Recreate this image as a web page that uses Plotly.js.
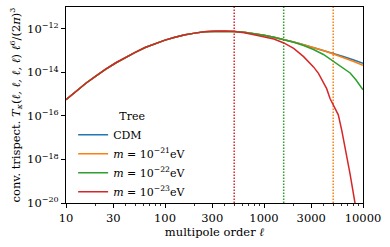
<!DOCTYPE html>
<html>
<head>
<meta charset="utf-8">
<script src="https://cdn.plot.ly/plotly-3.0.1.min.js"></script>
<style>html,body{margin:0;padding:0;background:#fff;}#chart{width:390px;height:247px;}</style>
</head>
<body>
<div id="chart"></div>
<script>
// multipole order ell and convergence trispectrum T_kappa ell^6/(2pi)^3
const ellCDM = [10, 13, 16, 20, 25, 32, 40, 50, 63, 80, 100, 126, 160, 200, 250, 320, 400, 500, 631, 794, 1000, 1259, 1585, 1995, 2512, 3162, 3981, 5012, 6310, 7943, 10000];
const tCDM   = [5.50e-16, 1.51e-15, 3.24e-15, 6.76e-15, 1.38e-14, 2.75e-14, 4.90e-14, 8.32e-14, 1.38e-13, 2.14e-13, 3.02e-13, 4.07e-13, 5.37e-13, 6.31e-13, 7.24e-13, 7.76e-13, 7.94e-13, 7.59e-13, 6.92e-13, 6.03e-13, 5.01e-13, 4.07e-13, 3.24e-13, 2.45e-13, 1.86e-13, 1.38e-13, 1.02e-13, 7.41e-14, 5.37e-14, 3.80e-14, 2.63e-14];

const ellM21 = [10, 13, 16, 20, 25, 32, 40, 50, 63, 80, 100, 126, 160, 200, 250, 320, 400, 500, 631, 794, 1000, 1259, 1585, 1995, 2512, 3162, 3981, 5012, 6310, 7943, 10000];
const tM21   = [5.50e-16, 1.51e-15, 3.24e-15, 6.76e-15, 1.38e-14, 2.75e-14, 4.90e-14, 8.32e-14, 1.38e-13, 2.14e-13, 3.02e-13, 4.07e-13, 5.37e-13, 6.31e-13, 7.24e-13, 7.76e-13, 7.94e-13, 7.59e-13, 6.92e-13, 6.03e-13, 5.01e-13, 4.07e-13, 3.24e-13, 2.45e-13, 1.86e-13, 1.38e-13, 1.00e-13, 6.92e-14, 4.79e-14, 3.24e-14, 2.09e-14];

const ellM22 = [10, 13, 16, 20, 25, 32, 40, 50, 63, 80, 100, 126, 160, 200, 250, 320, 400, 500, 631, 794, 1000, 1259, 1585, 1995, 2512, 3162, 3981, 5012, 6310, 7413, 8511, 10000];
const tM22   = [5.50e-16, 1.51e-15, 3.24e-15, 6.76e-15, 1.38e-14, 2.75e-14, 4.90e-14, 8.32e-14, 1.38e-13, 2.14e-13, 3.02e-13, 4.07e-13, 5.37e-13, 6.31e-13, 7.24e-13, 7.76e-13, 7.94e-13, 7.59e-13, 6.92e-13, 6.03e-13, 5.01e-13, 4.07e-13, 3.24e-13, 2.40e-13, 1.70e-13, 1.12e-13, 6.61e-14, 3.31e-14, 1.66e-14, 9.33e-15, 4.47e-15, 1.58e-15];

const ellM23 = [10, 13, 16, 20, 25, 32, 40, 50, 63, 80, 100, 126, 160, 200, 250, 320, 400, 500, 631, 794, 1000, 1259, 1585, 1832, 1995, 2512, 3162, 3548, 3981, 4295, 4645, 5012, 5420, 5630, 6096, 6577, 7390, 8300, 8710];
const tM23   = [5.50e-16, 1.51e-15, 3.24e-15, 6.76e-15, 1.38e-14, 2.75e-14, 4.90e-14, 8.32e-14, 1.38e-13, 2.14e-13, 3.02e-13, 4.07e-13, 5.37e-13, 6.31e-13, 7.24e-13, 7.76e-13, 7.94e-13, 7.41e-13, 6.61e-13, 5.37e-13, 4.37e-13, 3.39e-13, 2.24e-13, 1.58e-13, 1.26e-13, 5.25e-14, 1.78e-14, 8.91e-15, 3.16e-15, 1.78e-15, 6.31e-16, 3.16e-16, 1.58e-16, 1.12e-16, 2.24e-17, 3.80e-18, 2.24e-19, 1.00e-20, 3.16e-21];

// cut-off multipoles (dotted vertical lines)
const cutM21 = 5000, cutM22 = 1581, cutM23 = 500;
const yLimits = [1e-20, 1e-11];

const xTickVals = [10, 30, 100, 300, 1000, 3000, 10000];
const xTickText = ['10', '30', '100', '300', '1000', '3000', '10000'];
const xMinorVals = [20, 40, 50, 60, 70, 80, 90, 200, 400, 500, 600, 700, 800, 900, 2000, 4000, 5000, 6000, 7000, 8000, 9000];
const yTickVals = [1e-20, 1e-18, 1e-16, 1e-14, 1e-12];
const yTickText = ['10<sup>−20</sup>', '10<sup>−18</sup>', '10<sup>−16</sup>', '10<sup>−14</sup>', '10<sup>−12</sup>'];

const names = ['CDM', '<i>m</i> = 10<sup>−21</sup>eV', '<i>m</i> = 10<sup>−22</sup>eV', '<i>m</i> = 10<sup>−23</sup>eV'];
const colors = ['#1f77b4', '#ff7f0e', '#2ca02c', '#d62728'];

function vline(x, color) {
  return {x: [x, x], y: yLimits, mode: 'lines', showlegend: false, hoverinfo: 'skip',
          line: {color: color, width: 1.5, dash: '1.5px,1.5px'}};
}

const traces = [
  vline(cutM23, colors[3]), vline(cutM22, colors[2]), vline(cutM21, colors[1]),
  {x: ellCDM, y: tCDM, name: names[0], mode: 'lines', line: {color: colors[0], width: 1.5}},
  {x: ellM21, y: tM21, name: names[1], mode: 'lines', line: {color: colors[1], width: 1.5}},
  {x: ellM22, y: tM22, name: names[2], mode: 'lines', line: {color: colors[2], width: 1.5}},
  {x: ellM23, y: tM23, name: names[3], mode: 'lines', line: {color: colors[3], width: 1.5}}
];

const font = {family: 'DejaVu Serif', size: 11.5, color: '#000'};
const legFont = {family: 'DejaVu Serif', size: 11, color: '#000'};

const layout = {
  width: 390, height: 247,
  margin: {l: 66, r: 27, t: 7, b: 44},
  paper_bgcolor: '#fff', plot_bgcolor: '#fff',
  font: font,
  showlegend: true,
  legend: {
    x: 0.024, y: -0.02, xanchor: 'left', yanchor: 'bottom',
    bgcolor: 'rgba(0,0,0,0)', borderwidth: 0,
    font: legFont,
    title: {text: 'Tree', side: 'top center', font: legFont},
    tracegroupgap: 0, itemwidth: 30
  },
  xaxis: {
    type: 'log', range: [1, 4],
    tickmode: 'array', tickvals: xTickVals, ticktext: xTickText,
    ticks: 'outside', ticklen: 4, tickwidth: 1, tickcolor: '#000',
    minor: {tickmode: 'array', tickvals: xMinorVals, ticks: 'outside', ticklen: 2, tickwidth: 0.8, tickcolor: '#000', showgrid: false},
    showline: true, linecolor: '#000', linewidth: 1, mirror: true,
    showgrid: false, zeroline: false,
    title: {text: 'multipole order <i>ℓ</i>', font: font, standoff: 4}
  },
  yaxis: {
    type: 'log', range: [-20, -11],
    tickmode: 'array', tickvals: yTickVals, ticktext: yTickText,
    ticks: 'outside', ticklen: 4, tickwidth: 1, tickcolor: '#000',
    showline: true, linecolor: '#000', linewidth: 1, mirror: true,
    showgrid: false, zeroline: false,
    title: {text: 'conv. trispect. <i>T<sub>κ</sub></i>(<i>ℓ, ℓ, ℓ, ℓ</i>) <i>ℓ</i><sup>6</sup>/(2<i>π</i>)<sup>3</sup>', font: {family: 'DejaVu Serif', size: 11.5, color: '#000'}, standoff: 4}
  }
};

Plotly.newPlot('chart', traces, layout, {staticPlot: true, displayModeBar: false});
</script>
</body>
</html>
